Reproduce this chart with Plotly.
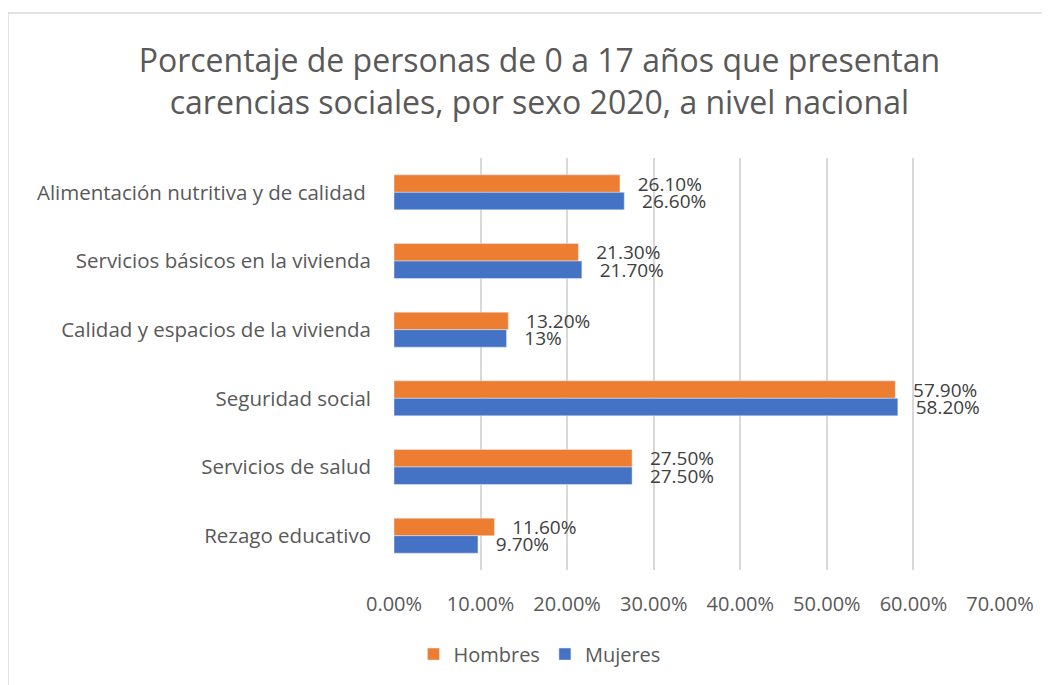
import plotly.graph_objects as go

# categorias de arriba hacia abajo
categorias = [
    "Alimentación nutritiva y de calidad ",
    "Servicios básicos en la vivienda",
    "Calidad y espacios de la vivienda",
    "Seguridad social",
    "Servicios de salud",
    "Rezago educativo",
]
hombres = [0.261, 0.213, 0.132, 0.579, 0.275, 0.116]
mujeres = [0.266, 0.217, 0.13, 0.582, 0.275, 0.097]
etiquetas_hombres = ["26.10%", "21.30%", "13.20%", "57.90%", "27.50%", "11.60%"]
etiquetas_mujeres = ["26.60%", "21.70%", "13%", "58.20%", "27.50%", "9.70%"]
ticks_x = [0, 0.1, 0.2, 0.3, 0.4, 0.5, 0.6, 0.7]

fuente = "Open Sans, Noto Sans, sans-serif"
gris = "#595959"
pad = "\u00a0" * 3

fig = go.Figure()
fig.add_trace(go.Bar(
    y=categorias, x=hombres, orientation="h", name="Hombres",
    marker=dict(color="#ED7D31"),
    text=[pad + t for t in etiquetas_hombres], textposition="outside",
    constraintext="none",
    textfont=dict(size=19, color="#404040"), cliponaxis=False))
fig.add_trace(go.Bar(
    y=categorias, x=mujeres, orientation="h", name="Mujeres",
    marker=dict(color="#4472C4"),
    text=[pad + t for t in etiquetas_mujeres], textposition="outside",
    constraintext="none",
    textfont=dict(size=19, color="#404040"), cliponaxis=False))

fig.update_layout(
    width=1042, height=677,
    margin=dict(l=386, r=50, t=150, b=115),
    paper_bgcolor="white", plot_bgcolor="white",
    font=dict(family=fuente, color=gris, size=20),
    title=dict(
        text="Porcentaje de personas de 0 a 17 años que presentan<br>carencias sociales, por sexo 2020, a nivel nacional",
        x=0.51, xanchor="center", xref="container",
        y=0.905, yanchor="middle",
        font=dict(size=32, color=gris, family=fuente)),
    barmode="group", bargap=0.49, bargroupgap=0,
    legend=dict(orientation="h", x=0.24, xanchor="center", y=-0.204, yanchor="middle",
                font=dict(size=20, color=gris), traceorder="normal"),
)
fig.update_xaxes(range=[0, 0.7], tickvals=ticks_x, tickformat=".2%",
                 showgrid=True, gridcolor="#D9D9D9", gridwidth=1.5,
                 zeroline=False, showline=False, ticks="", ticklabelstandoff=20,
                 tickfont=dict(size=20, color=gris))
fig.update_yaxes(autorange="reversed", showgrid=False, showline=False, ticks="",
                 ticklabelstandoff=22, tickfont=dict(size=20.5, color=gris))

# borde del area del grafico
fig.add_shape(type="rect", xref="paper", yref="paper",
              x0=-0.637, x1=1.2, y0=-0.4, y1=1.352,
              line=dict(color="#D9D9D9", width=1.5), fillcolor="rgba(0,0,0,0)", layer="below")

fig.write_html("out.html")
